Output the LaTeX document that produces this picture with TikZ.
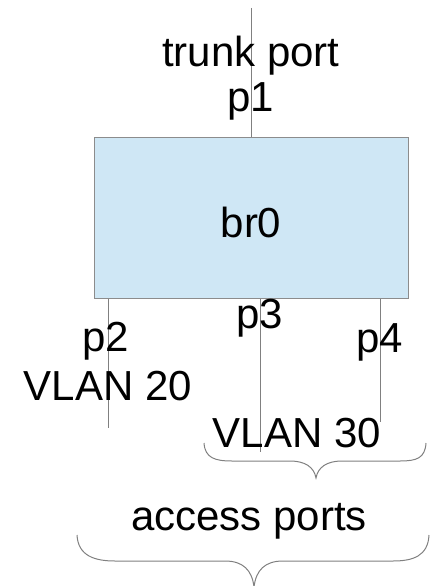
\documentclass[tikz,border=0pt]{standalone}
\usepackage{fontspec}
\setmainfont{Liberation Sans}
\begin{document}
\begin{tikzpicture}[x=1pt,y=-1pt,
  wire/.style={draw=black!50,line width=1pt},
  lbl/.style={font=\fontsize{42}{46}\selectfont,inner sep=0pt},
  bracecurve/.style={draw=black!50,line width=1pt}]
\useasboundingbox (0,0) rectangle (444,586);
\node[draw=black!45,line width=1.3pt,fill={rgb,255:red,207;green,231;blue,245},minimum width=314pt,minimum height=161pt,inner sep=0pt,anchor=north west] (br) at (94,137) {};
\coordinate (t1) at (251,8);
\coordinate (b2) at (108,428);
\coordinate (b3) at (260,452);
\coordinate (b4) at (380,422);
\draw[wire] (t1) -- (t1 |- br.north);
\draw[wire] (b2 |- br.south) -- (b2);
\draw[wire] (b3 |- br.south) -- (b3);
\draw[wire] (b4 |- br.south) -- (b4);
\node[lbl] (trunk) at (251,56) {trunk port};
\node[lbl] (p1) at (251,101) {p1};
\node[lbl] (br0) at (251,222) {br0};
\node[lbl] (p2) at (106,341) {p2};
\node[lbl] (vlan20) at (108,386) {VLAN 20};
\node[lbl] (p3) at (260,318) {p3};
\node[lbl] (p4) at (380,342) {p4};
\node[lbl] (vlan30) at (297,433) {VLAN 30};
\node[lbl] (access) at (249,521) {access ports};
% brace 1
\coordinate (a1) at (204,443);
\coordinate (a2) at (426,443);
\coordinate (a3) at (316,478);
\draw[bracecurve] (a1) .. controls (205,458) and (215,461) .. (232,461) -- (290,461) .. controls (305,461) and (314,467) .. (a3)
  .. controls (318,467) and (327,461) .. (342,461) -- (400,461) .. controls (417,461) and (425,458) .. (a2);
% brace 2
\coordinate (c1) at (77,535);
\coordinate (c2) at (429,535);
\coordinate (c3) at (254,587);
\draw[bracecurve] (c1) .. controls (78,556) and (95,561) .. (115,561) -- (225,561) .. controls (243,561) and (252,570) .. (c3)
  .. controls (256,570) and (265,561) .. (283,561) -- (393,561) .. controls (413,561) and (428,556) .. (c2);
\end{tikzpicture}
\end{document}
